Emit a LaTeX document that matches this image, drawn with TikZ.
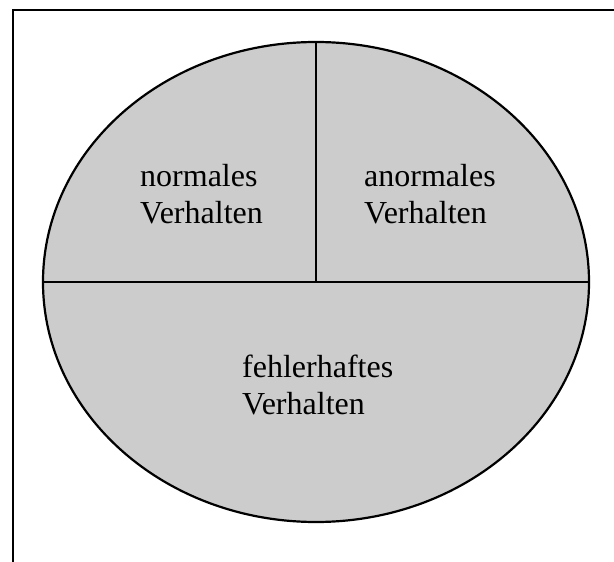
\documentclass[tikz,border=0pt]{standalone}
\usepackage{fontspec}
\setmainfont{Liberation Serif}
\usetikzlibrary{shapes.geometric}
\begin{document}
\begin{tikzpicture}[x=1pt,y=-1pt,
    rule/.style={line width=2.2pt, draw=black},
    area/.style={ellipse, rule, fill=black!20, minimum width=546pt, minimum height=480pt, inner sep=0pt, outer sep=0pt},
    label/.style={anchor=base west, align=left, inner sep=0pt, font=\fontsize{32}{37}\selectfont}]
  \useasboundingbox (0,0) rectangle (614,562);
  % outer frame, running past the right and bottom edges
  \draw[rule] (13,10) rectangle (640,590);
  % the oval split into three regions
  \node[area] (e) at (316,282) {};
  \draw[rule] (e.north) -- (e.center);
  \draw[rule] (e.west) -- (e.east);
  % labels, placed by the baseline of their last line
  \node[label] (n) at (140,223) {normales\\Verhalten};
  \node[label] (a) at (364,223) {anormales\\Verhalten};
  \node[label] (f) at (242,414) {fehlerhaftes\\Verhalten};
\end{tikzpicture}
\end{document}
